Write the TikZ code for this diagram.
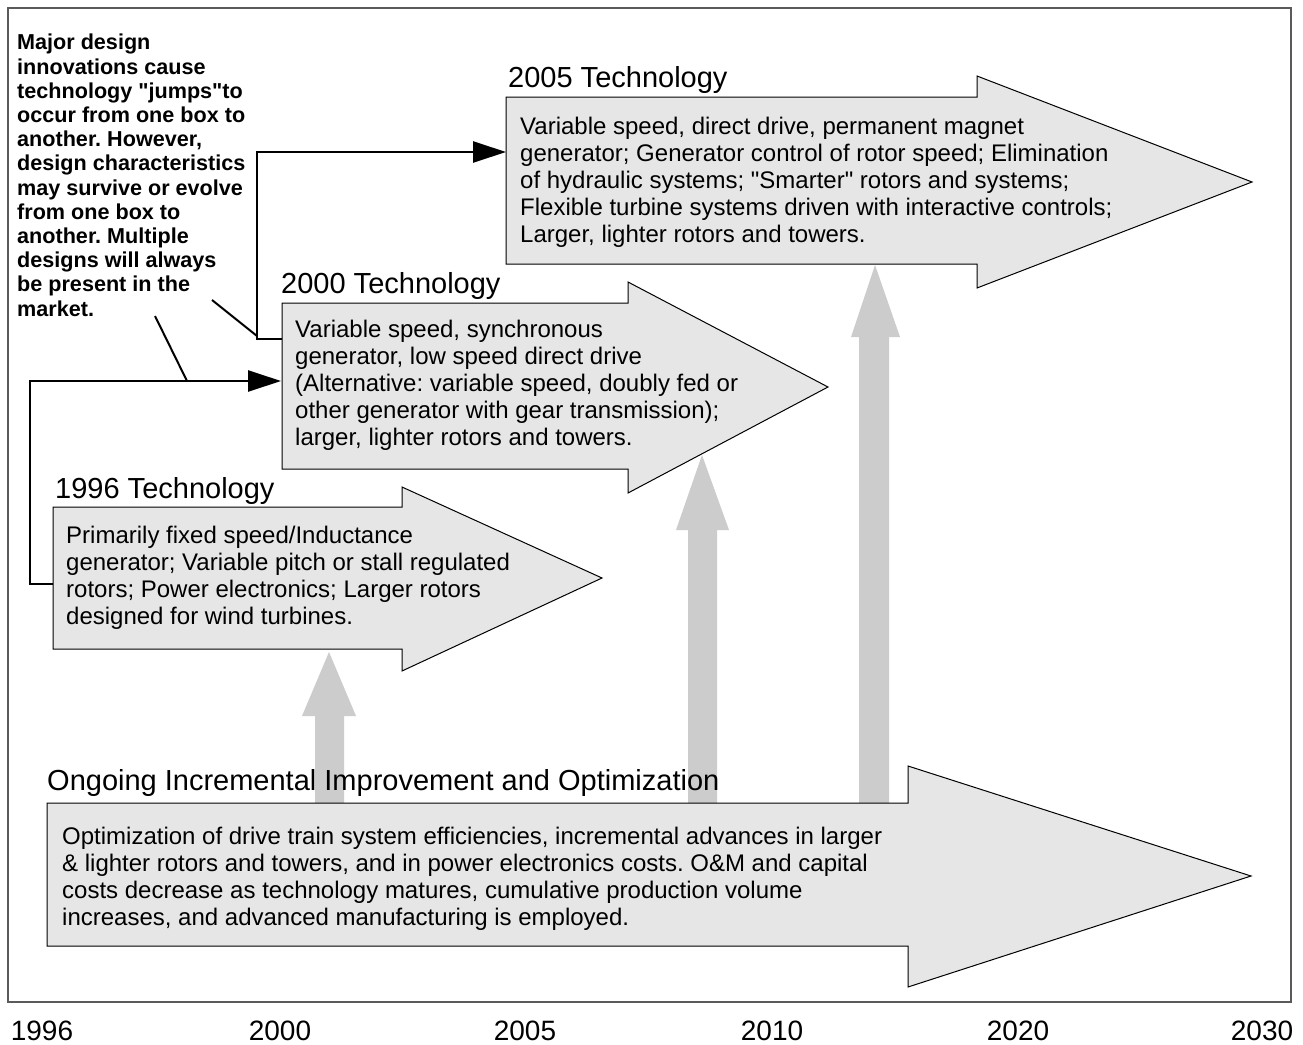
\documentclass[tikz,border=0pt]{standalone}
\usepackage{fontspec}
\setmainfont{Liberation Sans}[Ligatures=TeXOff]
\usetikzlibrary{arrows.meta}
\definecolor{boxfill}{RGB}{230,230,230}
\definecolor{upgray}{RGB}{204,204,204}
\definecolor{framegray}{RGB}{90,90,90}
\tikzset{
  bigarrow/.style={draw=black, line width=1pt, fill=boxfill, line join=miter},
  uparrow/.style={fill=upgray, draw=none},
  conn/.style={line width=2.6pt, line join=miter},
  ptr/.style={line width=2pt},
  headtip/.style={-{Triangle[length=33pt,width=21pt]}},
  title/.style={anchor=base west, inner sep=0pt, font=\fontsize{29}{32}\selectfont},
  body/.style={anchor=north west, inner sep=0pt, align=left, font=\fontsize{24}{27}\selectfont},
  note/.style={anchor=north west, inner sep=0pt, align=left, font=\bfseries\fontsize{21.6}{24.2}\selectfont},
  year/.style={anchor=base, inner sep=0pt, font=\fontsize{28}{30}\selectfont},
}
\begin{document}
\frenchspacing
\begin{tikzpicture}[x=1pt,y=-1pt]
\useasboundingbox (0,0) rectangle (1303,1044);
\fill[white] (0,0) rectangle (1303,1044);
% frame
\draw[framegray, line width=1.3pt] (8,8) rectangle (1291,1002);

% gray upward arrows
\fill[uparrow] (315,803) -- (315,716) -- (302,716) -- (329,652) -- (356,716) -- (344,716) -- (344,803) -- cycle;
\fill[uparrow] (688,803) -- (688,530) -- (676,530) -- (702,455) -- (729,530) -- (717,530) -- (717,803) -- cycle;
\fill[uparrow] (859,803) -- (859,337) -- (851,337) -- (875,265) -- (900,337) -- (889,337) -- (889,803) -- cycle;

% big arrows
\draw[bigarrow] (506,97) -- (977,97) -- (977,76) -- (1252,182) -- (977,288) -- (977,264) -- (506,264) -- cycle;
\draw[bigarrow] (282,303) -- (628,303) -- (628,282) -- (828,387) -- (628,493) -- (628,469) -- (282,469) -- cycle;
\draw[bigarrow] (53,507) -- (402,507) -- (402,487) -- (602,578) -- (402,671) -- (402,649) -- (53,649) -- cycle;
\draw[bigarrow] (47,803) -- (908,803) -- (908,766) -- (1251,876) -- (908,987) -- (908,946) -- (47,946) -- cycle;

% named coordinates for connectors
\coordinate (a96w) at (53,584);
\coordinate (a00w) at (281,381);
\coordinate (a00wb) at (282,339);
\coordinate (a05w) at (506,152);
\coordinate (p1s) at (155,316);
\coordinate (p1e) at (187,381);
\coordinate (p2s) at (212,300);
\coordinate (p2e) at (257,336);

\draw[conn,headtip] (a96w) -- (30,584) |- (a00w);
\draw[conn,headtip] (a00wb) -- (257,339) |- (a05w);
\draw[ptr] (p1s) -- (p1e);
\draw[ptr] (p2s) -- (p2e);

% titles
\node[title] (t05) at (508,87) {2005 Technology};
\node[title] (t00) at (281,293) {2000 Technology};
\node[title] (t96) at (55,498) {1996 Technology};
\node[title] (tog) at (47,790) {Ongoing Incremental Improvement and Optimization};

% body texts
\node[body] (b05) at (520,117) {Variable speed, direct drive, permanent magnet\\generator; Generator control of rotor speed; Elimination\\of hydraulic systems; "Smarter" rotors and systems;\\Flexible turbine systems driven with interactive controls;\\Larger, lighter rotors and towers.};
\node[body] (b00) at (295,320) {Variable speed, synchronous\\generator, low speed direct drive\\(Alternative: variable speed, doubly fed or\\other generator with gear transmission);\\larger, lighter rotors and towers.};
\node[body] (b96) at (66,526) {Primarily fixed speed/Inductance\\generator; Variable pitch or stall regulated\\rotors; Power electronics; Larger rotors\\designed for wind turbines.};
\node[body] (bog) at (62,827) {Optimization of drive train system efficiencies, incremental advances in larger\\\& lighter rotors and towers, and in power electronics costs. O\&M and capital\\costs decrease as technology matures, cumulative production volume\\increases, and advanced manufacturing is employed.};

% annotation
\node[note] (ann) at (17,34) {Major design\\innovations cause\\technology "jumps"to\\occur from one box to\\another. However,\\design characteristics\\may survive or evolve\\from one box to\\another. Multiple\\designs will always\\be present in the\\market.};

% years
\node[year] (y1996) at (42,1040) {1996};
\node[year] (y2000) at (280,1040) {2000};
\node[year] (y2005) at (525,1040) {2005};
\node[year] (y2010) at (772,1040) {2010};
\node[year] (y2020) at (1018,1040) {2020};
\node[year] (y2030) at (1262,1040) {2030};
\end{tikzpicture}
\end{document}
